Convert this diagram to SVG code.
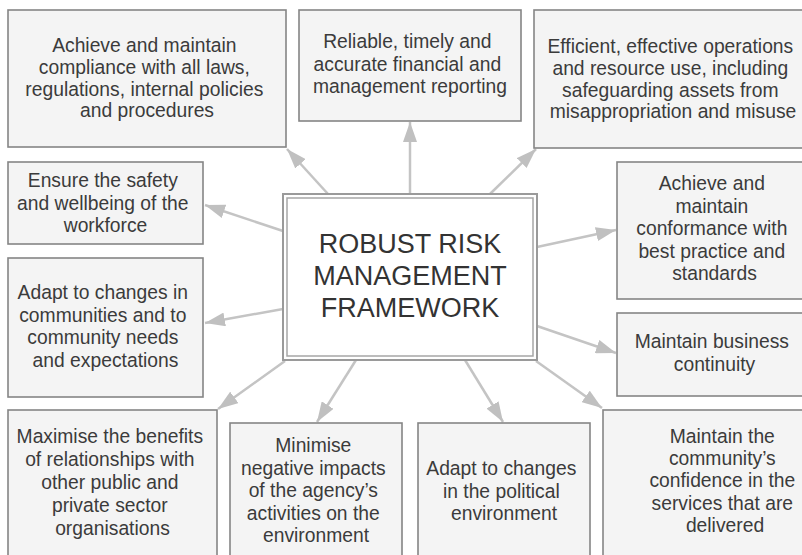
<svg xmlns="http://www.w3.org/2000/svg" width="802" height="555" viewBox="0 0 802 555">
  <style>
    .box { fill: #f4f4f4; stroke: #858585; stroke-width: 1.6; }
    .lbl { font-family: "Liberation Sans", Arial, sans-serif; font-size: 19.3px; fill: #3b3b3b; text-anchor: middle; }
    .core { font-family: "Liberation Sans", Arial, sans-serif; font-size: 27px; fill: #333333; text-anchor: middle; }
    .link { stroke: #c4c4c4; stroke-width: 2.5; fill: none; marker-end: url(#head); }
  </style>
  <defs>
    <marker id="head" markerUnits="userSpaceOnUse" markerWidth="20" markerHeight="14" refX="20" refY="7" orient="auto">
      <path d="M0,0 L20,7 L0,14 z" fill="#c0c0c0"/>
    </marker>
  </defs>
  <rect width="802" height="555" fill="#ffffff"/>

  <!-- connectors from the central framework out to each objective -->
  <g id="connectors">
    <line class="link" x1="328" y1="194" x2="287" y2="149"/>
    <line class="link" x1="410" y1="194" x2="410" y2="122"/>
    <line class="link" x1="490" y1="194" x2="536" y2="149"/>
    <line class="link" x1="283" y1="231" x2="205" y2="205"/>
    <line class="link" x1="283" y1="309" x2="205" y2="323"/>
    <line class="link" x1="537" y1="247" x2="616" y2="230"/>
    <line class="link" x1="537" y1="326" x2="616" y2="353"/>
    <line class="link" x1="285" y1="361" x2="218" y2="409"/>
    <line class="link" x1="356" y1="360" x2="317" y2="422"/>
    <line class="link" x1="465" y1="360" x2="503" y2="422"/>
    <line class="link" x1="536" y1="361" x2="602" y2="408"/>
  </g>

  <g id="framework">
    <rect x="283" y="194" width="254" height="166" fill="#ffffff" stroke="#9a9a9a" stroke-width="2"/>
    <rect x="287" y="198" width="246" height="158" fill="none" stroke="#a6a6a6" stroke-width="1.5"/>
    <text class="core" x="410" y="253">ROBUST RISK</text>
    <text class="core" x="410" y="285">MANAGEMENT</text>
    <text class="core" x="410" y="317">FRAMEWORK</text>
  </g>

  <g id="compliance">
    <rect class="box" x="8" y="10" width="278" height="137"/>
    <text class="lbl" x="147" y="52">
      <tspan x="147">Achieve and maintain</tspan>
      <tspan x="147" dy="21.8">compliance with all laws,</tspan>
      <tspan x="147" dy="21.8">regulations, internal policies</tspan>
      <tspan x="147" dy="21.8">and procedures</tspan>
    </text>
  </g>

  <g id="reporting">
    <rect class="box" x="299" y="10" width="222" height="111"/>
    <text class="lbl" x="410" y="48">
      <tspan x="410">Reliable, timely and</tspan>
      <tspan x="410" dy="22.5">accurate financial and</tspan>
      <tspan x="410" dy="22.5">management reporting</tspan>
    </text>
  </g>

  <g id="operations">
    <rect class="box" x="534" y="10" width="280" height="138"/>
    <text class="lbl" x="673" y="53">
      <tspan x="673">Efficient, effective operations</tspan>
      <tspan x="673" dy="21.8">and resource use, including</tspan>
      <tspan x="673" dy="21.8">safeguarding assets from</tspan>
      <tspan x="673" dy="21.8">misappropriation and misuse</tspan>
    </text>
  </g>

  <g id="safety">
    <rect class="box" x="8" y="162" width="195" height="82"/>
    <text class="lbl" x="105.5" y="187">
      <tspan x="105.5">Ensure the safety</tspan>
      <tspan x="105.5" dy="22.5">and wellbeing of the</tspan>
      <tspan x="105.5" dy="22.5">workforce</tspan>
    </text>
  </g>

  <g id="communities">
    <rect class="box" x="8" y="258" width="195" height="139"/>
    <text class="lbl" x="105.5" y="299">
      <tspan x="105.5">Adapt to changes in</tspan>
      <tspan x="105.5" dy="22.6">communities and to</tspan>
      <tspan x="105.5" dy="22.6">community needs</tspan>
      <tspan x="105.5" dy="22.6">and expectations</tspan>
    </text>
  </g>

  <g id="conformance">
    <rect class="box" x="617" y="162" width="195" height="137"/>
    <text class="lbl" x="714.5" y="190">
      <tspan x="714.5">Achieve and</tspan>
      <tspan x="714.5" dy="22.5">maintain</tspan>
      <tspan x="714.5" dy="22.5">conformance with</tspan>
      <tspan x="714.5" dy="22.5">best practice and</tspan>
      <tspan x="714.5" dy="22.5">standards</tspan>
    </text>
  </g>

  <g id="continuity">
    <rect class="box" x="617" y="313" width="195" height="83"/>
    <text class="lbl" x="714.5" y="348">
      <tspan x="714.5">Maintain business</tspan>
      <tspan x="714.5" dy="23">continuity</tspan>
    </text>
  </g>

  <g id="relationships">
    <rect class="box" x="8" y="410" width="209" height="155"/>
    <text class="lbl" x="112.5" y="443">
      <tspan x="112.5">Maximise the benefits</tspan>
      <tspan x="112.5" dy="23">of relationships with</tspan>
      <tspan x="112.5" dy="23">other public and</tspan>
      <tspan x="112.5" dy="23">private sector</tspan>
      <tspan x="112.5" dy="23">organisations</tspan>
    </text>
  </g>

  <g id="environment">
    <rect class="box" x="230" y="423" width="172" height="142"/>
    <text class="lbl" x="316" y="452">
      <tspan x="316">Minimise</tspan>
      <tspan x="316" dy="22.5">negative impacts</tspan>
      <tspan x="316" dy="22.5">of the agency’s</tspan>
      <tspan x="316" dy="22.5">activities on the</tspan>
      <tspan x="316" dy="22.5">environment</tspan>
    </text>
  </g>

  <g id="political">
    <rect class="box" x="418" y="423" width="172" height="142"/>
    <text class="lbl" x="504" y="475">
      <tspan x="504">Adapt to changes</tspan>
      <tspan x="504" dy="22.5">in the political</tspan>
      <tspan x="504" dy="22.5">environment</tspan>
    </text>
  </g>

  <g id="confidence">
    <rect class="box" x="603" y="410" width="244" height="155"/>
    <text class="lbl" x="725" y="443">
      <tspan x="725">Maintain the</tspan>
      <tspan x="725" dy="22.2">community’s</tspan>
      <tspan x="725" dy="22.2">confidence in the</tspan>
      <tspan x="725" dy="22.2">services that are</tspan>
      <tspan x="725" dy="22.2">delivered</tspan>
    </text>
  </g>
</svg>
